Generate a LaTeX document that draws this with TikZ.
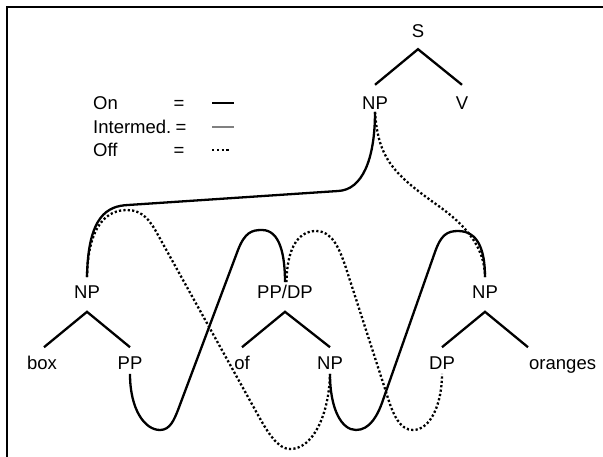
\documentclass[tikz,border=0pt]{standalone}
\usepackage{fontspec}
\setmainfont{Liberation Sans}
\begin{document}
\begin{tikzpicture}[x=1pt,y=-1pt,
  lab/.style={anchor=base,inner sep=0pt,text height=13.2pt,text depth=0pt,font=\fontsize{18.5}{22}\selectfont},
  branch/.style={line width=2.3pt},
  onl/.style={line width=2.3pt},
  offl/.style={line width=2.3pt,dash pattern=on 2.2pt off 2.2pt},
  midl/.style={line width=2.6pt,gray},
  frame/.style={line width=2pt}
]
\useasboundingbox (0,0) rectangle (603,456);
\clip (0,0) rectangle (603,456);
% frame (only left and top edges fall inside the picture)
\coordinate (fbl) at (6.8,520);
\coordinate (ftl) at (6.8,7.4);
\coordinate (ftr) at (680,7.4);
\draw[frame] (fbl) -- (ftl) -- (ftr);

% legend
\node[lab,anchor=base west] (on) at (93,109.6) {On};
\node[lab,anchor=base west] (im) at (93,133.6) {Intermed.};
\node[lab,anchor=base west] (off) at (93,156.6) {Off};
\node[lab] (eq1) at (179,109.6) {=};
\node[lab] (eq2) at (181,133.6) {=};
\node[lab] (eq3) at (179,156.6) {=};
\coordinate (l1a) at (212,103);  \coordinate (l1b) at (234,103);
\coordinate (l2a) at (212,127);  \coordinate (l2b) at (234,127);
\coordinate (l3a) at (212,150);  \coordinate (l3b) at (231,150);
\draw[line width=2.8pt] (l1a) -- (l1b);
\draw[midl] (l2a) -- (l2b);
\draw[line width=2.4pt,dash pattern=on 2.2pt off 2.6pt] (l3a) -- (l3b);

% tree labels
\node[lab] (S) at (418,37.6) {S};
\node[lab] (npT) at (375,109.6) {NP};
\node[lab] (V) at (462,109.6) {V};
\node[lab] (npL) at (87,298.6) {NP};
\node[lab] (ppdp) at (285,298.6) {PP/DP};
\node[lab] (npR) at (485,298.6) {NP};
\node[lab] (box) at (42,369.6) {box};
\node[lab] (pp) at (130,369.6) {PP};
\node[lab] (of) at (242,369.6) {of};
\node[lab] (npM) at (330,369.6) {NP};
\node[lab] (dp) at (442,369.6) {DP};
\node[lab,anchor=base west] (or) at (529,369.6) {oranges};

% branches
\draw[branch] ([yshift=11.4pt]npT.north) -- ([yshift=-11.4pt]S.south) -- ([yshift=11.4pt]V.north);
\draw[branch] ([xshift=2pt,yshift=9pt]box.north) -- ([yshift=-13pt]npL.south) -- ([yshift=9pt]pp.north);
\draw[branch] ([yshift=9pt]of.north) -- ([yshift=-13pt]ppdp.south) -- ([yshift=9pt]npM.north);
\draw[branch] ([yshift=9pt]dp.north) -- ([yshift=-13pt]npR.south) -- ([xshift=-1pt,yshift=9pt]or.north west);

% On (solid) connections
\draw[onl] ([yshift=-2pt]npT.south) .. controls (375,160) and (362,190) .. (338,191)
  -- (128,205) .. controls (108,206) and (88,215) .. ([yshift=8pt]npL.north);
\draw[onl] ([yshift=-4pt]pp.south) .. controls (130,410) and (145,430) .. (160,430)
  .. controls (170,430) and (174,420) .. (178,410) -- (238,250)
  .. controls (245,232) and (252,230) .. (262,230)
  .. controls (280,230) and (285,255) .. ([yshift=3pt]ppdp.north);
\draw[onl] ([yshift=-4pt]npM.south) .. controls (330,410) and (342,430) .. (356,430)
  .. controls (370,430) and (378,415) .. (383,400) -- (435,252)
  .. controls (441,235) and (447,231) .. (458,231)
  .. controls (478,231) and (485,250) .. ([yshift=8pt]npR.north);

% Off (dotted) connections
\draw[offl] ([yshift=-2pt]npT.south) .. controls (378,160) and (395,175) .. (440,207)
  .. controls (462,223) and (485,245) .. ([yshift=8pt]npR.north);
\draw[offl] ([yshift=8pt]npL.north) .. controls (88,225) and (107,210) .. (127,210)
  .. controls (142,210) and (150,220) .. (158,235) -- (258,415)
  .. controls (268,433) and (278,449) .. (290,449)
  .. controls (313,449) and (329,415) .. ([yshift=-4pt]npM.south);
\draw[offl] ([xshift=1.5pt,yshift=3pt]ppdp.north) .. controls (287,245) and (300,231) .. (316,231)
  .. controls (332,231) and (339,248) .. (345,265) -- (387,395)
  .. controls (393,415) and (400,430) .. (413,430)
  .. controls (430,430) and (442,405) .. ([yshift=-4pt]dp.south);
\end{tikzpicture}
\end{document}
